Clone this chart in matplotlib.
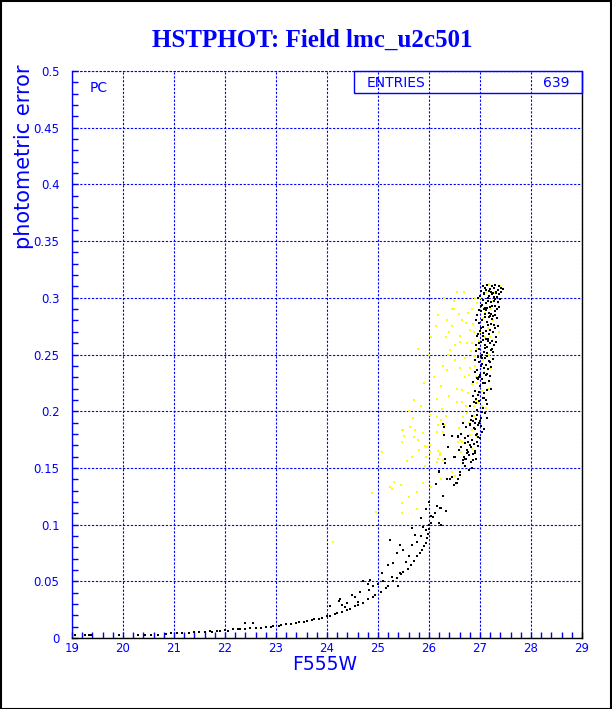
import matplotlib
matplotlib.use("Agg")
import matplotlib.pyplot as plt
from matplotlib.patches import Rectangle
from matplotlib.ticker import MultipleLocator

# ---------------- data ----------------
black_low_x = [19.05, 19.25, 19.33, 19.37, 19.92, 20.30, 20.43, 20.55, 20.68, 20.85, 20.95, 21.05, 21.15,
               21.3, 21.4, 21.5, 21.6, 21.7, 21.75, 21.85, 21.9, 22.0, 22.05, 22.15, 22.25, 22.3, 22.4,
               22.39, 22.54, 22.5, 22.6, 22.7, 22.8, 22.9, 22.95, 23.05, 23.1, 23.2, 23.3, 23.4, 23.45,
               23.55, 23.6, 23.7, 23.75, 23.85, 23.9, 24.0, 24.05, 24.15, 24.2, 24.3, 24.4, 24.45, 24.55,
               24.6, 24.7, 24.8, 24.9, 24.95, 25.05, 25.15, 25.2, 25.3, 25.37, 25.45, 25.5, 25.59, 25.65,
               25.7, 25.76, 25.82, 25.86, 25.9, 25.95, 25.97, 25.99, 26.0, 26.0]
black_low_y = [0.0024, 0.0024, 0.0024, 0.0024, 0.0024, 0.003, 0.003, 0.003, 0.003, 0.0035, 0.004, 0.004, 0.0045,
               0.0045, 0.005, 0.005, 0.0055, 0.006, 0.0055, 0.0065, 0.006, 0.007, 0.0065, 0.0075, 0.0075, 0.008, 0.008,
               0.0135, 0.013, 0.0085, 0.009, 0.009, 0.0095, 0.010, 0.0105, 0.011, 0.0115, 0.012, 0.0125, 0.013, 0.014,
               0.014, 0.015, 0.016, 0.0165, 0.017, 0.018, 0.019, 0.0195, 0.021, 0.022, 0.023, 0.025, 0.026, 0.028,
               0.029, 0.031, 0.034, 0.036, 0.038, 0.041, 0.044, 0.046, 0.050, 0.053, 0.056, 0.058, 0.061, 0.064,
               0.068, 0.072, 0.075, 0.078, 0.081, 0.084, 0.088, 0.092, 0.096, 0.100]

black_mid_x = [24.06, 24.24, 24.30, 24.25, 24.55, 24.65, 24.83, 24.84, 24.7, 24.81, 25.07, 25.20, 25.27, 25.43,
               25.24, 25.43, 25.37, 25.50, 25.66, 25.73, 25.76, 25.66, 25.89, 24.4, 24.5, 24.9, 25.0, 25.1,
               25.55, 25.6, 25.3, 24.6, 24.35, 25.85, 25.95, 25.4]
black_mid_y = [0.028, 0.033, 0.029, 0.034, 0.036, 0.041, 0.042, 0.051, 0.050, 0.048, 0.057, 0.064, 0.054, 0.057,
               0.086, 0.082, 0.075, 0.078, 0.097, 0.091, 0.085, 0.082, 0.098, 0.031, 0.038, 0.046, 0.048, 0.050,
               0.067, 0.072, 0.066, 0.032, 0.027, 0.090, 0.095, 0.046]

black_scat_x = [25.94, 25.84, 26.15, 26.22, 26.33, 26.12, 26.07, 26.19, 26.27, 26.35, 26.45, 26.49, 26.53, 26.60,
                26.20, 26.14, 26.56, 26.29, 26.29, 26.37, 26.49, 26.57, 26.67, 26.71, 26.80, 26.77, 26.71, 26.87,
                26.80, 26.28, 26.56, 26.71, 26.38, 26.74, 26.31, 26.73, 26.51, 26.31, 26.20, 26.41, 26.54, 26.24,
                26.03, 26.04, 26.24, 26.00, 26.61, 26.66, 26.63, 26.45, 26.58, 26.94, 26.79, 26.67, 26.85, 26.90,
                26.95, 26.98]
black_scat_y = [0.114, 0.106, 0.116, 0.115, 0.112, 0.110, 0.107, 0.101, 0.125, 0.140, 0.142, 0.135, 0.137, 0.146,
                0.146, 0.136, 0.140, 0.186, 0.179, 0.168, 0.160, 0.178, 0.154, 0.158, 0.170, 0.164, 0.172, 0.191,
                0.188, 0.189, 0.177, 0.176, 0.168, 0.163, 0.158, 0.158, 0.160, 0.154, 0.147, 0.140, 0.137, 0.115,
                0.108, 0.101, 0.100, 0.120, 0.144, 0.190, 0.180, 0.178, 0.166, 0.173, 0.161, 0.157, 0.150, 0.165,
                0.180, 0.190]

black_core_x = [27.05, 27.10, 27.14, 27.20, 27.24, 27.28, 27.30, 27.35, 27.38, 27.42, 27.45, 27.18, 27.32,
                27.00, 27.05, 27.08, 27.12, 27.16, 27.20, 27.23, 27.27, 27.30, 27.33, 27.36, 27.40, 27.10, 27.22,
                27.25, 27.38, 26.96, 27.02, 27.15, 27.29,
                26.95, 26.98, 27.02, 27.06, 27.10, 27.13, 27.17, 27.20, 27.24, 27.27, 27.30, 27.33, 27.35, 27.00,
                27.08, 27.15, 27.22, 27.29, 26.92, 27.12, 27.26, 27.04, 27.18,
                26.95, 26.98, 27.01, 27.05, 27.08, 27.11, 27.14, 27.18, 27.21, 27.24, 27.28, 27.31, 27.03, 27.10,
                27.16, 27.26, 26.92, 27.06, 27.20, 27.13,
                26.90, 26.94, 26.97, 27.00, 27.04, 27.07, 27.10, 27.14, 27.18, 27.22, 27.25, 27.02, 27.12, 26.98,
                27.20, 27.08,
                26.86, 26.90, 26.94, 26.97, 27.00, 27.03, 27.07, 27.10, 27.14, 27.18, 26.92, 27.05, 27.12, 26.99,
                26.80, 26.84, 26.88, 26.92, 26.95, 26.99, 27.02, 27.06, 27.10, 27.14, 26.90, 27.00,
                26.72, 26.76, 26.80, 26.85, 26.90, 26.93, 26.97, 27.00, 27.04, 26.88,
                26.62, 26.68, 26.74, 26.82, 26.86, 26.92, 26.96]
black_core_y = [0.310, 0.309, 0.311, 0.308, 0.310, 0.309, 0.311, 0.307, 0.310, 0.309, 0.308, 0.306, 0.305,
                0.302, 0.298, 0.304, 0.295, 0.300, 0.292, 0.303, 0.297, 0.293, 0.301, 0.296, 0.299, 0.291, 0.296,
                0.304, 0.292, 0.300, 0.293, 0.297, 0.299,
                0.285, 0.278, 0.288, 0.274, 0.283, 0.279, 0.287, 0.272, 0.281, 0.276, 0.288, 0.282, 0.275, 0.271,
                0.290, 0.276, 0.286, 0.273, 0.280, 0.289, 0.284, 0.280, 0.283,
                0.266, 0.255, 0.261, 0.269, 0.252, 0.264, 0.257, 0.268, 0.254, 0.262, 0.258, 0.265, 0.250, 0.258,
                0.262, 0.252, 0.258, 0.263, 0.260, 0.251,
                0.245, 0.236, 0.248, 0.232, 0.242, 0.238, 0.247, 0.233, 0.244, 0.239, 0.246, 0.249, 0.241, 0.243,
                0.231, 0.234,
                0.226, 0.218, 0.229, 0.214, 0.222, 0.228, 0.216, 0.225, 0.219, 0.227, 0.211, 0.212, 0.210, 0.230,
                0.205, 0.196, 0.208, 0.193, 0.201, 0.209, 0.194, 0.203, 0.198, 0.206, 0.190, 0.191,
                0.186, 0.178, 0.189, 0.175, 0.184, 0.179, 0.188, 0.176, 0.182, 0.171,
                0.168, 0.160, 0.166, 0.155, 0.162, 0.158, 0.169]

black_core2_x = [27.02, 27.07, 27.12, 27.17, 27.22, 27.27, 27.32, 27.37, 27.42,
                 26.99, 27.04, 27.09, 27.14, 27.19, 27.24, 27.29, 27.34,
                 26.97, 27.01, 27.06, 27.11, 27.16, 27.21, 27.26, 27.31,
                 26.93, 26.99, 27.04, 27.09, 27.14, 27.19, 27.24,
                 26.91, 26.96, 27.01, 27.06, 27.11, 27.16, 27.21,
                 26.87, 26.93, 26.98, 27.03, 27.08, 27.13,
                 26.83, 26.89, 26.95, 27.01, 27.07,
                 26.77, 26.83, 26.90, 26.96,
                 26.70, 26.78, 26.86]
black_core2_y = [0.306, 0.303, 0.307, 0.302, 0.305, 0.301, 0.304, 0.303, 0.305,
                 0.289, 0.294, 0.286, 0.291, 0.284, 0.293, 0.285, 0.290,
                 0.268, 0.273, 0.266, 0.271, 0.264, 0.277, 0.270, 0.261,
                 0.253, 0.260, 0.247, 0.256, 0.249, 0.243, 0.255,
                 0.235, 0.228, 0.240, 0.225, 0.232, 0.237, 0.220,
                 0.213, 0.207, 0.217, 0.199, 0.212, 0.194,
                 0.192, 0.185, 0.197, 0.187, 0.184,
                 0.173, 0.168, 0.163, 0.177,
                 0.152, 0.148, 0.157]

yellow_x = [24.11, 24.88, 24.97, 25.08, 25.24, 25.27, 25.31, 25.45, 25.48, 25.48, 25.60, 25.76, 25.77, 25.88,
            26.03, 26.24, 26.46, 26.51, 25.56, 25.66, 25.95, 25.92, 26.15, 26.27, 25.80, 26.18, 26.22, 26.62,
            26.01, 25.97, 26.56, 26.61, 25.48, 25.51, 25.71, 25.79, 25.48, 25.73, 25.88, 26.16, 26.28, 25.63,
            26.18, 26.23, 26.02, 26.33, 25.84, 26.25, 26.54, 26.69, 26.49, 26.17, 26.59, 26.77, 26.14, 26.46,
            26.72, 26.86, 26.80, 26.61, 26.33, 26.03, 26.51, 25.79, 26.41, 26.61, 26.84, 26.95, 26.88, 26.51,
            26.71, 26.35, 26.61, 26.80, 26.23, 26.40, 26.64, 26.77, 26.84, 26.15, 26.64, 26.97, 26.88, 26.74,
            25.69, 25.63, 25.50, 25.92, 26.02, 26.31, 26.15, 26.48, 26.58, 26.64, 26.80, 26.84, 26.18, 26.21,
            27.00, 27.10, 27.20, 27.05, 26.95, 27.15, 27.25, 27.30, 27.40, 26.90, 27.00, 27.08, 27.18, 26.92,
            27.35, 27.12, 26.85, 26.98, 27.03, 26.75, 26.70, 26.90, 27.10, 27.22, 26.65, 26.45, 26.30, 26.55,
            26.40, 26.00, 25.70, 25.60, 26.10, 25.90,
            26.95, 27.05, 27.15, 27.25, 26.88, 26.98, 27.08, 27.20, 26.82, 26.93, 27.03, 27.12, 26.78, 26.88,
            26.98, 26.72, 26.85, 26.95, 26.66, 26.78, 26.55, 26.38, 26.27, 26.50, 26.35, 27.30, 27.38, 27.18]
yellow_y = [0.085, 0.128, 0.111, 0.164, 0.133, 0.131, 0.138, 0.135, 0.119, 0.110, 0.124, 0.129, 0.114, 0.137,
            0.133, 0.140, 0.146, 0.143, 0.156, 0.160, 0.160, 0.152, 0.155, 0.157, 0.166, 0.165, 0.163, 0.164,
            0.170, 0.168, 0.173, 0.175, 0.173, 0.178, 0.177, 0.175, 0.183, 0.183, 0.181, 0.182, 0.182, 0.186,
            0.188, 0.192, 0.197, 0.196, 0.205, 0.202, 0.208, 0.305, 0.297, 0.285, 0.286, 0.287, 0.275, 0.275,
            0.278, 0.277, 0.272, 0.266, 0.265, 0.265, 0.258, 0.255, 0.254, 0.261, 0.260, 0.255, 0.249, 0.245,
            0.247, 0.236, 0.238, 0.238, 0.222, 0.213, 0.219, 0.216, 0.224, 0.211, 0.208, 0.207, 0.196, 0.198,
            0.194, 0.186, 0.183, 0.169, 0.164, 0.188, 0.195, 0.178, 0.185, 0.173, 0.179, 0.167, 0.158, 0.161,
            0.300, 0.287, 0.265, 0.245, 0.225, 0.220, 0.280, 0.305, 0.310, 0.300, 0.270, 0.235, 0.250, 0.210,
            0.295, 0.305, 0.290, 0.190, 0.205, 0.260, 0.230, 0.240, 0.265, 0.290, 0.280, 0.290, 0.300, 0.305,
            0.270, 0.250, 0.210, 0.200, 0.230, 0.225,
            0.295, 0.282, 0.273, 0.297, 0.270, 0.262, 0.252, 0.238, 0.253, 0.230, 0.218, 0.203, 0.232, 0.205,
            0.215, 0.205, 0.183, 0.178, 0.195, 0.190, 0.220, 0.250, 0.240, 0.290, 0.280, 0.285, 0.270, 0.312]

n_entries = 639
x_ticks = [19, 20, 21, 22, 23, 24, 25, 26, 27, 28, 29]
y_ticks = [0, 0.05, 0.1, 0.15, 0.2, 0.25, 0.3, 0.35, 0.4, 0.45, 0.5]

# ---------------- figure ----------------
W, H = 612, 709
fig = plt.figure(figsize=(W / 100, H / 100), dpi=100)
fig.patch.set_facecolor("white")

ax = fig.add_axes([72 / W, 71 / H, 510 / W, 567 / H])
ax.set_xlim(19, 29)
ax.set_ylim(0, 0.5)

blue = "#0000ff"
ms = 4.5
ax.scatter(yellow_x, yellow_y, s=ms, marker="s", c="#ffff00", linewidths=0, zorder=3,
           antialiased=False)
bx = black_low_x + black_mid_x + black_scat_x + black_core_x + black_core2_x
by = black_low_y + black_mid_y + black_scat_y + black_core_y + black_core2_y
ax.scatter(bx, by, s=ms, marker="s", c="black", linewidths=0, zorder=4, antialiased=False)

ax.set_xticks(x_ticks)
ax.set_yticks(y_ticks)
ax.set_xticklabels([str(v) for v in x_ticks])
ax.set_yticklabels(["0"] + [f"{v:g}" for v in y_ticks[1:]])
ax.xaxis.set_minor_locator(MultipleLocator(0.2))
ax.yaxis.set_minor_locator(MultipleLocator(0.01))
ax.tick_params(axis="both", which="both", direction="in", color=blue, width=1, length=4.5,
               labelcolor=blue, labelsize=8.5)
ax.tick_params(axis="x", which="both", pad=3)
ax.tick_params(axis="y", which="both", pad=9)
for lab in ax.get_xticklabels() + ax.get_yticklabels():
    lab.set_family("DejaVu Sans")

ax.grid(True, which="major", color=blue, linestyle=(0, (2, 1.5)), linewidth=0.8)
ax.axhline(0.5, color=blue, linestyle=(0, (2, 1.5)), linewidth=0.8, clip_on=False)

ax.spines["top"].set_visible(False)
ax.spines["left"].set_color(blue)
ax.spines["bottom"].set_color("black")
ax.spines["right"].set_color("black")
for s in ax.spines.values():
    s.set_linewidth(1)

# title & labels
fig.text(312 / W, 1 - 40 / H, "HSTPHOT: Field lmc_u2c501", ha="center", va="center",
         family="Liberation Serif", fontweight="bold", fontsize=18, color=blue)
fig.text(24 / W, 1 - 157 / H, "photometric error", rotation=90, ha="center", va="center",
         family="DejaVu Sans", fontsize=15, color=blue)
fig.text(325 / W, 1 - 665 / H, "F555W", ha="center", va="center",
         family="DejaVu Sans", fontsize=13.5, color=blue)
fig.text(99 / W, 1 - 88 / H, "PC", ha="center", va="center",
         family="DejaVu Sans", fontsize=10, color=blue)

# stats box
fig.patches.append(Rectangle((354 / W, 1 - 93 / H), 228 / W, 22 / H, transform=fig.transFigure,
                             fill=False, edgecolor=blue, linewidth=1, zorder=5))
fig.text(367 / W, 1 - 83 / H, "ENTRIES", ha="left", va="center",
         family="DejaVu Sans", fontsize=10, color=blue)
fig.text(570 / W, 1 - 83 / H, str(n_entries), ha="right", va="center",
         family="DejaVu Sans", fontsize=10, color=blue)

# outer frame
fig.patches.append(Rectangle((0.5 / W, 0.5 / H), 1 - 1.5 / W, 1 - 1.5 / H, transform=fig.transFigure,
                             fill=False, edgecolor="black", linewidth=1.5, zorder=10))

fig.savefig("out.png", dpi=100)
